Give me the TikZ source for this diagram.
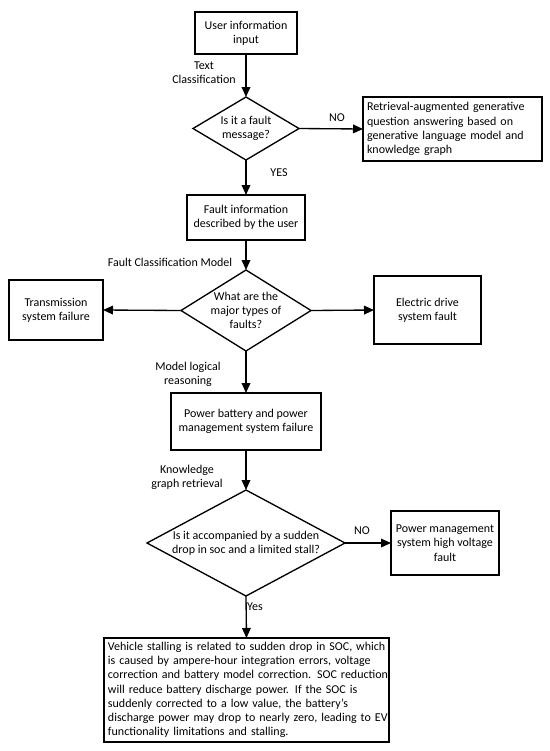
\documentclass[tikz,border=0pt]{standalone}
\usepackage{fontspec}
\setmainfont{Carlito}
\usetikzlibrary{arrows.meta,shapes.geometric}
\newlength\pxu
\setlength\pxu{0.75pt}
\newcommand\jline[1]{\makebox[\linewidth][s]{#1}}
\begin{document}
\begin{tikzpicture}[x=0.75pt,y=-0.75pt,
  font=\fontsize{9}{10.7}\selectfont,
  every node/.style={inner sep=0pt, outer sep=0pt},
  boxnode/.style={draw, line width=1pt, rectangle, align=center},
  dianode/.style={draw, line width=1pt, diamond, shape aspect=1},
  lbl/.style={align=center},
  arr/.style={line width=1pt, -{Triangle[length=7.5pt,width=6.5pt]}}]
\useasboundingbox (0,0) rectangle (550,751);
\node[boxnode, minimum width=102\pxu, minimum height=42\pxu] (b1) at (246,33) {User information\\input};
\node[dianode, minimum width=106\pxu, minimum height=63\pxu, label={[lbl]center:Is it a fault\\message?}] (d1) at (246,128.5) {};
\node[boxnode, minimum width=179\pxu, minimum height=64\pxu, text width=171\pxu, align=left] (b2) at (452.5,129)
  {\jline{Retrieval-augmented generative}\\\jline{question answering based on}\\\jline{generative language model and}\\knowledge graph};
\node[boxnode, minimum width=118\pxu, minimum height=45\pxu] (b3) at (246,217.5) {Fault information\\described by the user};
\node[dianode, minimum width=130\pxu, minimum height=81\pxu, label={[lbl]center:What are the\\major types of\\faults?}] (d2) at (246,310.5) {};
\node[boxnode, minimum width=94\pxu, minimum height=60\pxu] (bL) at (56,310) {Transmission\\system failure};
\node[boxnode, minimum width=107\pxu, minimum height=68\pxu] (bR) at (427.5,310) {Electric drive\\system fault};
\node[boxnode, minimum width=150\pxu, minimum height=57\pxu] (b4) at (246,421.5) {Power battery and power\\management system failure};
\node[dianode, minimum width=198\pxu, minimum height=106\pxu, label={[lbl]center:Is it accompanied by a sudden\\drop in soc and a limited stall?}] (d3) at (246,543) {};
\node[boxnode, minimum width=108\pxu, minimum height=64\pxu] (b5) at (445,543) {Power management\\system high voltage\\fault};
\node[boxnode, minimum width=285\pxu, minimum height=104\pxu, text width=277\pxu, align=left] (b6) at (246.5,690)
  {\jline{Vehicle stalling is related to sudden drop in SOC, which}\\
   \jline{is caused by ampere-hour integration errors, voltage}\\
   \jline{correction and battery model correction. SOC reduction}\\
   \jline{will reduce battery discharge power. If the SOC is}\\
   \jline{suddenly corrected to a low value, the battery's}\\
   \jline{discharge power may drop to nearly zero, leading to EV}\\
   functionality limitations and stalling.};
\node[lbl] (l1) at (204,72.5) {Text\\Classification};
\node[lbl] (l2) at (337,118) {NO};
\node[lbl] (l3) at (279,173) {YES};
\node[lbl] (l4) at (170,262) {Fault Classification Model};
\node[lbl] (l5) at (188,374.5) {Model logical\\reasoning};
\node[lbl] (l6) at (187,477) {Knowledge\\graph retrieval};
\node[lbl] (l7) at (362,531) {NO};
\node[lbl] (l8) at (255,607) {Yes};
\draw[arr] (b1.south) -- (d1.north);
\draw[arr] (d1.east) -- (b2.west);
\draw[arr] (d1.south) -- (b3.north);
\draw[arr] (b3.south) -- (d2.north);
\draw[arr] (d2.west) -- (bL.east);
\draw[arr] (d2.east) -- (bR.west);
\draw[arr] (d2.south) -- (b4.north);
\draw[arr] (b4.south) -- (d3.north);
\draw[arr] (d3.east) -- (b5.west);
\draw[arr] (d3.south) -- (b6.north);
\end{tikzpicture}
\end{document}
